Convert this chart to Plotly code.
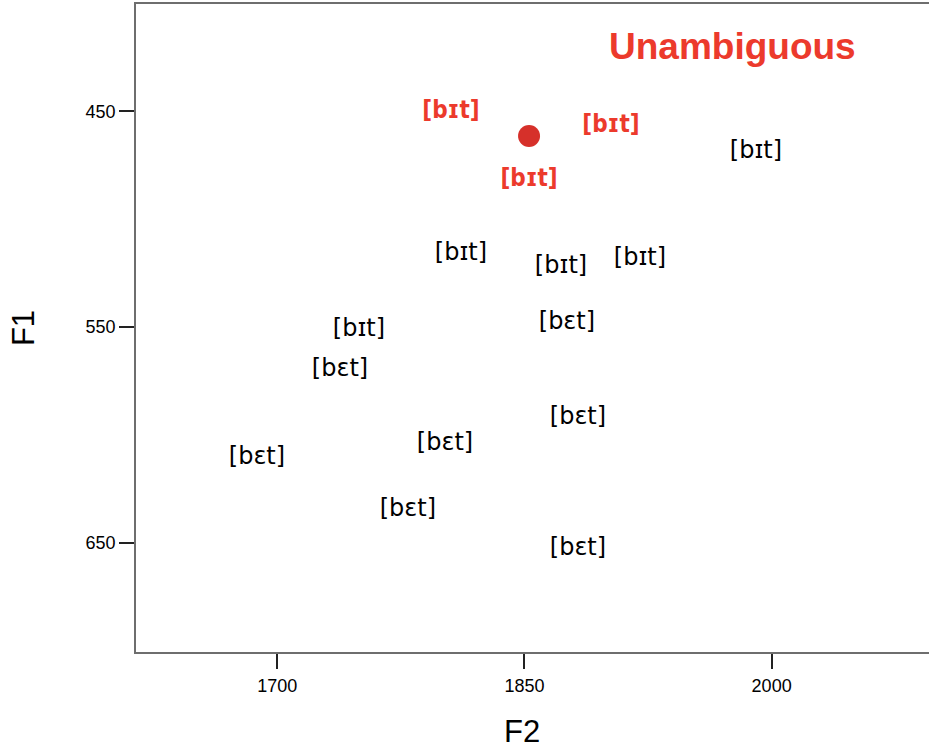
import plotly.graph_objects as go

# Unambiguous [bɪt] tokens (red, bold)
red_f2 = [1805.4, 1902.5, 1852.8]
red_f1 = [450.4, 456.9, 481.9]
red_labels = ["[bɪt]", "[bɪt]", "[bɪt]"]

# Centroid of unambiguous tokens (red dot)
dot_f2 = [1852.8]
dot_f1 = [461.5]

# Other [bɪt] tokens (black)
bit_f2 = [1990.5, 1811.5, 1872.2, 1920.1, 1749.6]
bit_f1 = [468.9, 516.2, 522.2, 518.5, 551.4]
bit_labels = ["[bɪt]"] * 5

# [bɛt] tokens (black)
bet_f2 = [1875.8, 1738.1, 1882.5, 1801.8, 1687.7, 1779.3, 1882.5]
bet_f1 = [548.2, 570.0, 592.2, 604.3, 610.8, 634.9, 653.0]
bet_labels = ["[bɛt]"] * 7

x_ticks = [1700, 1850, 2000]
y_ticks = [450, 550, 650]

RED = "#EC3A2C"
DOT = "#D6302A"
LABEL_FONT = "DejaVu Sans, Lucida Grande, sans-serif"
RED_FONT = "DejaVu Sans Condensed, DejaVu Sans, sans-serif"
AXIS_FONT = "Liberation Sans, Arial, sans-serif"

fig = go.Figure()
fig.add_trace(go.Scatter(x=bit_f2, y=bit_f1, mode="text", text=bit_labels,
                         textfont=dict(family=LABEL_FONT, size=24, color="black"),
                         hoverinfo="skip", showlegend=False))
fig.add_trace(go.Scatter(x=bet_f2, y=bet_f1, mode="text", text=bet_labels,
                         textfont=dict(family=LABEL_FONT, size=24, color="black"),
                         hoverinfo="skip", showlegend=False))
fig.add_trace(go.Scatter(x=red_f2, y=red_f1, mode="text", text=red_labels,
                         textfont=dict(family=RED_FONT, size=24, color=RED, weight="bold"),
                         hoverinfo="skip", showlegend=False))
fig.add_trace(go.Scatter(x=dot_f2, y=dot_f1, mode="markers",
                         marker=dict(size=22, color=DOT, line=dict(width=0)),
                         hoverinfo="skip", showlegend=False))

axis_common = dict(
    showgrid=False, zeroline=False,
    showline=True, linecolor="#6e6e6e", linewidth=1.5,
    ticks="outside", ticklen=15, tickwidth=1.5, tickcolor="#222222",
    tickfont=dict(family=AXIS_FONT, size=18, color="black"),
)

fig.update_xaxes(range=[1614.3, 2095.5], tickvals=x_ticks, mirror=True,
                 ticklabelstandoff=2, **axis_common)
fig.update_yaxes(range=[700.7, 400.3], tickvals=y_ticks, mirror=False,
                 title=dict(text="F1", font=dict(family=AXIS_FONT, size=31, color="black"), standoff=42),
                 **axis_common)

# x-axis title (placed slightly left of centre, as in the original)
fig.add_annotation(text="F2", xref="paper", yref="paper",
                   x=0.4864, y=-0.123, xanchor="center", yanchor="middle",
                   showarrow=False,
                   font=dict(family=AXIS_FONT, size=31, color="black"))

fig.add_annotation(text="Unambiguous", xref="paper", yref="paper",
                   x=0.7528, y=0.935, xanchor="center", yanchor="middle",
                   showarrow=False,
                   font=dict(family=AXIS_FONT, size=37, color=RED, weight="bold"))

fig.update_layout(width=929, height=748,
                  margin=dict(l=136, r=0, t=4, b=96),
                  paper_bgcolor="white", plot_bgcolor="white")

fig.write_html("out.html", config={"displayModeBar": False},
               post_script="document.body.style.margin='0';document.body.style.padding='0';document.body.style.overflow='hidden';")
